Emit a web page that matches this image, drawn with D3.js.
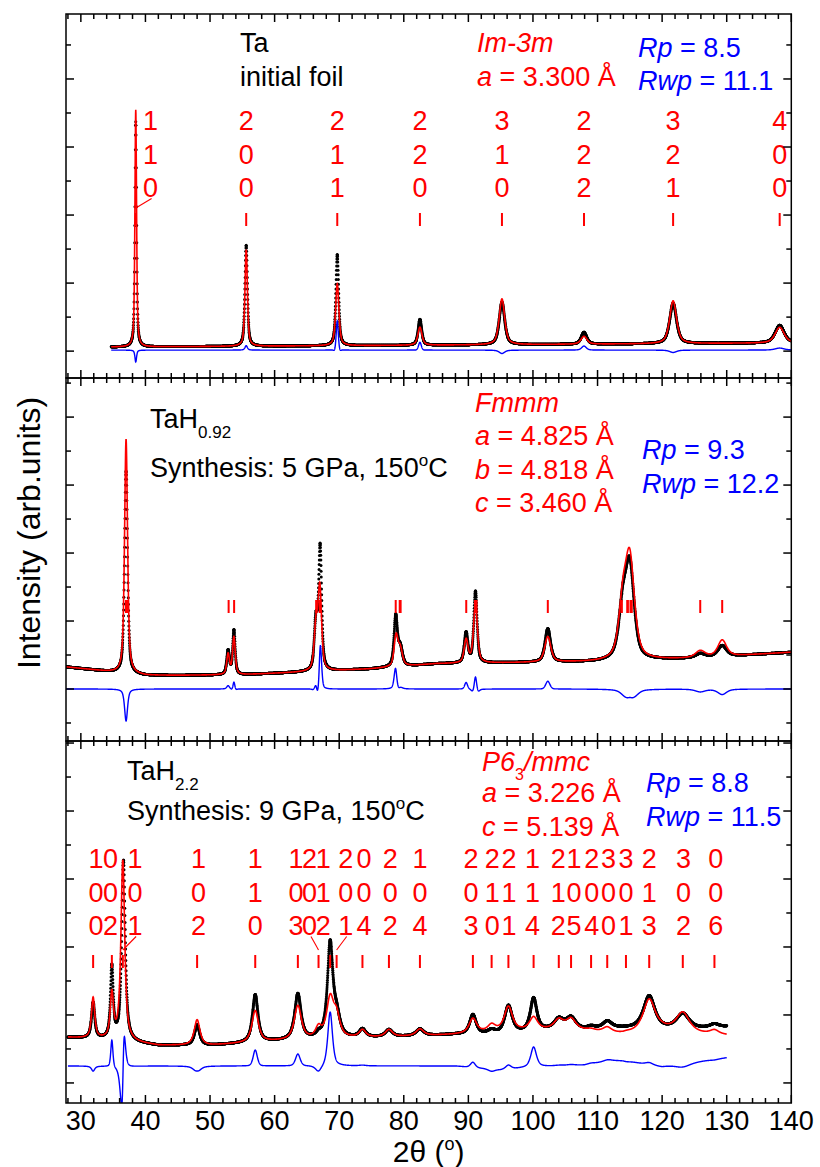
<!DOCTYPE html>
<html>
<head>
<meta charset="utf-8">
<script src="https://cdn.jsdelivr.net/npm/d3@7/dist/d3.min.js"></script>
<style>
  body { margin: 0; background: #fff; }
  svg { display: block; }
  text { font-family: "Liberation Sans", Arial, Helvetica, sans-serif; }
</style>
</head>
<body>
<svg id="chart" width="820" height="1167"></svg>
<script>
// ---------------- shared axis data ----------------
const twoThetaDomain = [27.7, 140];
const xTickLabels = [30, 40, 50, 60, 70, 80, 90, 100, 110, 120, 130, 140];
const xMinorStep = 2;
const scanStep = 0.02;

// ---------------- Ta, initial foil (Im-3m) ----------------
const taScan = [34.7, 140];
const taYDomain = [-7.9, 99.1];
const taBackground = [[34.7, 1.2], [80, 1.7], [140, 2.4]];
const taCalcPeaks = [ // [2θ, height, FWHM]
  [38.5, 69.7, 0.30], [55.6, 28.4, 0.45], [69.7, 18.2, 0.60], [82.5, 5.3, 0.75],
  [95.2, 13.5, 1.00], [107.9, 2.3, 1.10], [121.7, 12.6, 1.25], [138.2, 4.6, 1.65]
];
const taObsPeaks = [
  [38.5, 66.2, 0.30], [55.6, 29.7, 0.45], [69.7, 26.8, 0.50], [82.5, 7.6, 0.65],
  [95.2, 12.5, 1.00], [107.9, 3.5, 1.00], [121.7, 11.9, 1.25], [138.2, 5.2, 1.65]
];
const taDiffOffset = 0.3;
const taMarkers = [38.5, 55.6, 69.7, 82.5, 95.2, 107.9, 121.7, 138.2];
const taHkl = ["110", "200", "211", "220", "310", "222", "321", "400"];
const taLabelAt = [40.8, 55.6, 69.7, 82.5, 95.2, 107.9, 121.7, 138.2];
const taLeaders = [[40.8, 38.5]]; // [label 2θ, reflection 2θ]

// ---------------- TaH0.92, 5 GPa (Fmmm) ----------------
const tah1Scan = [27.7, 140];
const tah1YDomain = [-15.3, 91.5];
const tah1Background = [
  [27.7, 6.5], [32, 5.6], [36, 4.7], [40, 4.0], [45, 4.0], [55, 4.2], [65, 5.0],
  [75, 5.9], [85, 7.4], [100, 7.8], [110, 8.0], [125, 9.0], [140, 10.8]
];
const tah1CalcPeaks = [
  [37.0, 69.0, 0.55], [52.8, 6.0, 0.50], [53.7, 11.0, 0.50],
  [66.4, 12.5, 0.65], [67.0, 24.0, 0.65], [78.8, 8.8, 0.70], [79.45, 5.0, 0.80],
  [89.65, 6.8, 0.70], [91.1, 17.5, 0.70], [102.3, 7.5, 1.10],
  [113.9, 14.0, 1.50], [115.0, 29.0, 1.70], [125.9, 2.0, 1.80], [129.3, 4.8, 1.60]
];
const tah1ObsPeaks = [
  [37.0, 59.6, 0.55], [52.8, 7.0, 0.50], [53.7, 13.0, 0.45],
  [66.4, 14.0, 0.60], [67.05, 36.0, 0.55], [78.75, 14.5, 0.60], [79.45, 5.5, 0.80],
  [89.65, 8.8, 0.65], [91.1, 21.0, 0.60], [102.3, 9.8, 1.00],
  [113.9, 14.0, 1.50], [115.0, 26.5, 1.60], [125.9, 1.2, 1.80], [129.3, 3.2, 1.60]
];
const tah1DiffOffset = 0;
const tah1Markers = [
  36.99, 37.24, 37.30, 52.88, 53.73, 66.45, 66.49, 66.98, 67.06, 78.75, 79.37, 79.51,
  89.67, 91.03, 91.17, 91.27, 102.3, 113.7, 113.75, 114.6, 114.7, 115.1, 115.3, 125.9, 129.3
];

// ---------------- TaH2.2, 9 GPa (P63/mmc) ----------------
const tah2Scan = [28.0, 130.0];
const tah2YDomain = [-5.9, 100.6];
const tah2Background = [
  [28, 13.4], [35, 12.6], [42, 11.0], [50, 11.0], [60, 12.2], [70, 13.0], [80, 13.6],
  [88, 14.2], [95, 15.0], [102, 15.4], [108, 15.2], [114, 14.2], [120, 15.6],
  [126, 14.4], [130, 14.0]
];
const tah2ObsBackground = [
  [28, 13.4], [35, 12.6], [42, 11.0], [50, 11.0], [60, 12.2], [70, 13.0], [80, 13.6],
  [88, 14.2], [95, 14.0], [102, 15.2], [108, 15.4], [112, 16.0], [114, 15.9], [120, 15.6],
  [126, 15.9], [130, 16.5]
];
const tah2CalcPeaks = [
  [31.9, 12.0, 0.60], [34.8, 13.0, 0.60], [36.5, 53.0, 0.70], [48.0, 7.5, 1.05],
  [57.0, 9.3, 1.20], [63.6, 10.0, 1.30], [66.8, 3.0, 1.10], [68.6, 11.5, 1.30],
  [69.6, 6.0, 1.20], [73.6, 2.2, 1.20], [77.7, 2.1, 1.30], [82.5, 2.0, 1.40],
  [90.7, 4.3, 1.40], [93.6, 2.0, 1.40], [96.2, 7.2, 1.50], [100.1, 3.8, 1.50],
  [104.0, 3.0, 1.80], [105.9, 3.3, 1.80], [109.0, 0.5, 1.50], [111.5, 1.5, 1.60],
  [114.4, 0.3, 1.60], [118.0, 9.3, 2.20], [123.2, 5.6, 2.40], [128.1, 1.2, 1.60]
];
const tah2ObsPeaks = [
  [31.9, 10.5, 0.60], [34.8, 21.0, 0.50], [36.6, 53.0, 0.65], [48.0, 6.0, 0.95],
  [57.0, 14.0, 1.00], [63.6, 13.5, 1.15], [66.8, 1.0, 1.00], [68.6, 27.5, 1.00],
  [69.6, 6.0, 1.20], [73.6, 2.4, 1.20], [77.7, 2.1, 1.30], [82.5, 2.0, 1.40],
  [90.7, 5.8, 1.20], [93.6, 1.2, 1.40], [96.2, 8.3, 1.40], [100.1, 9.8, 1.20],
  [104.0, 3.2, 1.80], [105.9, 3.6, 1.80], [109.0, 0.8, 1.50], [111.5, 2.0, 1.60],
  [118.0, 9.8, 2.10], [123.2, 4.5, 2.30], [128.1, 1.0, 1.60]
];
const tah2DiffOffset = 5;
const tah2Markers = [
  31.9, 34.8, 36.5, 48.0, 57.0, 63.6, 66.8, 68.6, 69.6, 73.6, 77.7, 82.5,
  90.7, 93.6, 96.2, 100.1, 104.0, 105.9, 109.0, 111.5, 114.4, 118.0, 123.2, 128.1
];
const tah2Hkl = [
  "100", "002", "101", "102", "110", "103", "200", "112", "201", "004", "202", "104",
  "203", "210", "211", "114", "212", "105", "204", "300", "301", "213", "302", "006"
];
const tah2LabelAt = [
  32.35, 34.6, 38.4, 48.2, 57.0, 63.3, 65.4, 67.55, 71.0, 73.85, 77.9, 82.5,
  90.4, 93.7, 96.3, 99.95, 103.9, 106.35, 109.1, 111.7, 114.4, 118.0, 123.3, 128.3
];
const tah2Leaders = [[38.4, 36.5], [65.4, 66.8], [71.0, 69.6]];

// ---------------- layout ----------------
const svg = d3.select("#chart");
const left = 66, right = 791.3;
const FS = 27;
const RED = "#ff0000", BLUE = "#0000ff";

const x = d3.scaleLinear().domain(twoThetaDomain).range([left, right]);

const panels = [
  {
    top: 14, bottom: 378, yDomain: taYDomain, scan: taScan, eta: 0.6,
    bg: taBackground, obsBg: taBackground, calc: taCalcPeaks, obs: taObsPeaks,
    diffOffset: taDiffOffset, markers: taMarkers, hkl: taHkl, labelAt: taLabelAt,
    leaders: taLeaders, rowY: [116, 149.5, 183], markerY: [199, 212]
  },
  {
    top: 378, bottom: 741, yDomain: tah1YDomain, scan: tah1Scan, eta: 0.6,
    bg: tah1Background, obsBg: tah1Background, calc: tah1CalcPeaks, obs: tah1ObsPeaks,
    diffOffset: tah1DiffOffset, markers: tah1Markers, hkl: null, labelAt: null,
    leaders: [], rowY: null, markerY: [222, 235]
  },
  {
    top: 741, bottom: 1103, yDomain: tah2YDomain, scan: tah2Scan, eta: 0.8,
    bg: tah2Background, obsBg: tah2ObsBackground, calc: tah2CalcPeaks, obs: tah2ObsPeaks,
    diffOffset: tah2DiffOffset, markers: tah2Markers, hkl: tah2Hkl, labelAt: tah2LabelAt,
    leaders: tah2Leaders, rowY: [127, 160.5, 194], markerY: [214, 227]
  }
];

// pseudo-Voigt sum over a piecewise-linear background
function profile(peaks, bgPoints, eta) {
  const bg = d3.scaleLinear()
    .domain(bgPoints.map(d => d[0]))
    .range(bgPoints.map(d => d[1]))
    .clamp(true);
  return t => bg(t) + d3.sum(peaks, ([p, h, w]) => {
    const u = (t - p) / w;
    return h * (eta / (1 + 4 * u * u) + (1 - eta) * Math.exp(-4 * Math.LN2 * u * u));
  });
}

const defs = svg.append("defs");

panels.forEach((P, i) => {
  const g = svg.append("g");
  const y = d3.scaleLinear().domain(P.yDomain).range([P.bottom, P.top]);

  defs.append("clipPath").attr("id", "clip" + i)
    .append("rect").attr("x", left).attr("y", P.top)
    .attr("width", right - left).attr("height", P.bottom - P.top);

  const grid = d3.range(P.scan[0], P.scan[1] + 1e-9, scanStep);
  const calcF = profile(P.calc, P.bg, P.eta);
  const obsF = profile(P.obs, P.obsBg, P.eta);
  const rows = grid.map(t => {
    const o = obsF(t), c = calcF(t);
    return { t, obs: o, calc: c, diff: o - c + P.diffOffset };
  });

  const plot = g.append("g").attr("clip-path", `url(#clip${i})`);

  // difference curve
  plot.append("path").datum(rows)
    .attr("fill", "none").attr("stroke", BLUE).attr("stroke-width", 1.4)
    .attr("d", d3.line().x(d => x(d.t)).y(d => y(d.diff)));

  // observed points
  plot.append("g").selectAll("circle").data(rows).join("circle")
    .attr("cx", d => x(d.t)).attr("cy", d => y(d.obs)).attr("r", 1.5)
    .attr("fill", "#000");

  // calculated profile
  plot.append("path").datum(rows)
    .attr("fill", "none").attr("stroke", RED).attr("stroke-width", 1.6)
    .attr("d", d3.line().x(d => x(d.t)).y(d => y(d.calc)));

  // reflection markers
  g.append("g").selectAll("line").data(P.markers).join("line")
    .attr("x1", d => x(d)).attr("x2", d => x(d))
    .attr("y1", P.top + P.markerY[0]).attr("y2", P.top + P.markerY[1])
    .attr("stroke", RED).attr("stroke-width", 2);

  // hkl labels: one digit per row
  if (P.hkl) {
    P.hkl.forEach((h, k) => {
      [0, 1, 2].forEach(r => {
        g.append("text")
          .attr("x", x(P.labelAt[k])).attr("y", P.top + P.rowY[r])
          .attr("text-anchor", "middle").attr("font-size", FS).attr("fill", RED)
          .text(h[r]);
      });
    });
    g.append("g").selectAll("line").data(P.leaders).join("line")
      .attr("x1", d => x(d[0]) + (d[0] > d[1] ? 1 : 1.5))
      .attr("y1", P.top + P.rowY[2] + 1.5)
      .attr("x2", d => x(d[1]))
      .attr("y2", P.top + P.markerY[0] - 5)
      .attr("stroke", RED).attr("stroke-width", 1.1);
  }

  // frame and ticks
  const axes = g.append("g").attr("stroke", "#000").attr("stroke-width", 1.5);
  axes.append("rect").attr("x", left).attr("y", P.top)
    .attr("width", right - left).attr("height", P.bottom - P.top).attr("fill", "none");

  const minor = d3.range(28, 141, xMinorStep).filter(v => v % 10 !== 0 && v >= twoThetaDomain[0]);
  const xt = [...xTickLabels.map(v => [v, 8]), ...minor.map(v => [v, 5])];
  xt.forEach(([v, len]) => {
    axes.append("line").attr("x1", x(v)).attr("x2", x(v))
      .attr("y1", P.top).attr("y2", P.top + len);
    axes.append("line").attr("x1", x(v)).attr("x2", x(v))
      .attr("y1", P.bottom).attr("y2", P.bottom - len);
  });
  const yt = d3.range(Math.ceil(P.yDomain[0] / 10) * 10, P.yDomain[1], 10);
  yt.forEach(v => {
    const len = v % 20 === 0 ? 8 : 5;
    axes.append("line").attr("x1", left).attr("x2", left + len)
      .attr("y1", y(v)).attr("y2", y(v));
    axes.append("line").attr("x1", right).attr("x2", right - len)
      .attr("y1", y(v)).attr("y2", y(v));
  });
});

// x tick labels
svg.append("g").selectAll("text").data(xTickLabels).join("text")
  .attr("x", d => x(d)).attr("y", 1130)
  .attr("text-anchor", "middle").attr("font-size", FS).attr("fill", "#000")
  .text(d => d);

// axis titles
const xTitle = svg.append("text").attr("x", (left + right) / 2).attr("y", 1162)
  .attr("text-anchor", "middle").attr("font-size", 30).attr("fill", "#000");
xTitle.append("tspan").text("2θ (");
xTitle.append("tspan").attr("dy", -12).attr("font-size", 18).text("o");
xTitle.append("tspan").attr("dy", 12).text(")");

svg.append("text")
  .attr("transform", "translate(40,533) rotate(-90)")
  .attr("text-anchor", "middle").attr("font-size", 32).attr("fill", "#000")
  .text("Intensity (arb.units)");

// ---------------- annotations ----------------
function rich(xp, yp, color, parts) {
  const t = svg.append("text").attr("x", xp).attr("y", yp)
    .attr("font-size", FS).attr("fill", color);
  parts.forEach(p => {
    const s = t.append("tspan").text(p.t);
    if (p.i) s.attr("font-style", "italic");
    if (p.fs) s.attr("font-size", p.fs);
    if (p.dy) s.attr("dy", p.dy);
  });
  return t;
}

// panel 1
rich(240, 52, "#000", [{ t: "Ta" }]);
rich(240, 86, "#000", [{ t: "initial foil" }]);
rich(477, 52, RED, [{ t: "Im-3m", i: true }]);
rich(477, 86, RED, [{ t: "a", i: true }, { t: " = 3.300 Å" }]);
rich(638, 57, BLUE, [{ t: "Rp", i: true }, { t: " = 8.5" }]);
rich(638, 90, BLUE, [{ t: "Rwp", i: true }, { t: " = 11.1" }]);

// panel 2
rich(150, 428, "#000", [{ t: "TaH" }, { t: "0.92", fs: 17, dy: 10 }]);
rich(150, 477, "#000", [{ t: "Synthesis: 5 GPa, 150" }, { t: "o", fs: 17, dy: -11 }, { t: "C", dy: 11 }]);
rich(475, 412, RED, [{ t: "Fmmm", i: true }]);
rich(475, 445, RED, [{ t: "a", i: true }, { t: " = 4.825 Å" }]);
rich(475, 478.5, RED, [{ t: "b", i: true }, { t: " = 4.818 Å" }]);
rich(475, 512, RED, [{ t: "c", i: true }, { t: " = 3.460 Å" }]);
rich(642, 459, BLUE, [{ t: "Rp", i: true }, { t: " = 9.3" }]);
rich(642, 493, BLUE, [{ t: "Rwp", i: true }, { t: " = 12.2" }]);

// panel 3
rich(127, 780, "#000", [{ t: "TaH" }, { t: "2.2", fs: 17, dy: 10 }]);
rich(127, 820, "#000", [{ t: "Synthesis: 9 GPa, 150" }, { t: "o", fs: 17, dy: -11 }, { t: "C", dy: 11 }]);
rich(482, 771, RED, [{ t: "P6", i: true }, { t: "3", fs: 16, dy: 9 }, { t: "/mmc", i: true, dy: -9 }]);
rich(482, 802, RED, [{ t: "a", i: true }, { t: " = 3.226 Å" }]);
rich(482, 836, RED, [{ t: "c", i: true }, { t: " = 5.139 Å" }]);
rich(646, 792, BLUE, [{ t: "Rp", i: true }, { t: " = 8.8" }]);
rich(646, 826, BLUE, [{ t: "Rwp", i: true }, { t: " = 11.5" }]);
</script>
</body>
</html>
